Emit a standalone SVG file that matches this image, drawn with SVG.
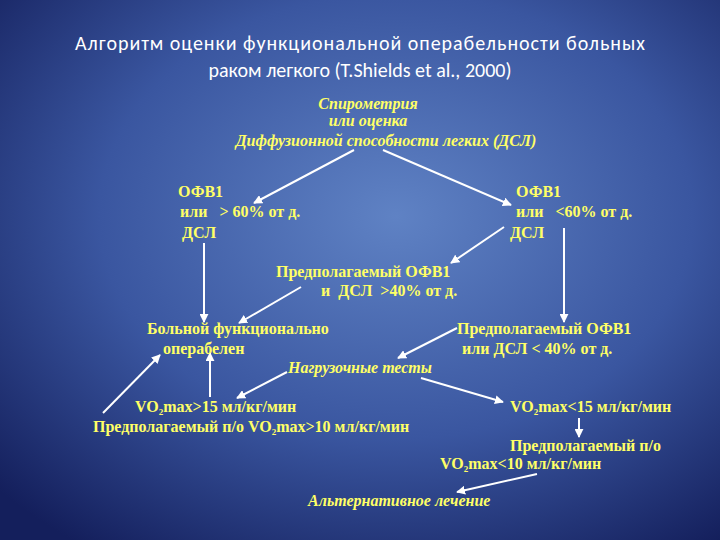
<svg xmlns="http://www.w3.org/2000/svg" width="720" height="540" viewBox="0 0 720 540">
<defs>
<radialGradient id="bg" cx="0.55" cy="0.4" r="0.75">
<stop offset="0" stop-color="#5f82c4"/>
<stop offset="0.55" stop-color="#3a56a0"/>
<stop offset="1" stop-color="#141f5c"/>
</radialGradient>
<marker id="ah" viewBox="0 0 10 10" refX="9" refY="5" markerWidth="9" markerHeight="9" markerUnits="userSpaceOnUse" orient="auto">
<path d="M0,0 L10,5 L0,10 z" fill="#ffffff"/>
</marker>
</defs>
<style>
.t{font-family:"Liberation Serif",serif;font-size:16px;font-weight:bold;fill:#ffff66}
.i{font-style:italic}
.h{font-family:Carlito,"Open Sans","Liberation Sans",sans-serif;font-size:20px;fill:#ffffff}
.c line{stroke:#ffffff;stroke-width:2;marker-end:url(#ah)}
</style>
<rect width="720" height="540" fill="url(#bg)"/>
<g id="title">
<text class="h" x="360" y="50" text-anchor="middle" textLength="570">Алгоритм оценки функциональной операбельности больных</text>
<text class="h" x="360" y="77" text-anchor="middle">раком легкого (T.Shields et al., 2000)</text>
</g>
<g class="c" id="connectors">
<line x1="354" y1="150" x2="254" y2="203"/>
<line x1="383" y1="150" x2="511" y2="205"/>
<line x1="504" y1="227" x2="451" y2="263"/>
<line x1="204" y1="243" x2="204" y2="322"/>
<line x1="564" y1="228" x2="564" y2="322"/>
<line x1="301" y1="287" x2="239" y2="323"/>
<line x1="457" y1="328" x2="398" y2="358"/>
<line x1="287" y1="372" x2="237" y2="398"/>
<line x1="421" y1="378" x2="503" y2="402"/>
<line x1="210" y1="397" x2="210" y2="353"/>
<line x1="103" y1="413" x2="160" y2="355"/>
<line x1="579" y1="418" x2="579" y2="437"/>
<line x1="537" y1="474" x2="457" y2="492"/>
</g>
<g id="spiro" class="t i">
<text x="368" y="109" text-anchor="middle">Спирометрия</text>
<text x="368" y="126" text-anchor="middle">или оценка</text>
<text x="386" y="146" text-anchor="middle">Диффузионной способности  легких (ДСЛ)</text>
</g>
<g id="left1" class="t">
<text x="178" y="197">ОФВ1</text>
<text x="180" y="217" xml:space="preserve">или   &gt; 60% от д.</text>
<text x="182" y="238">ДСЛ</text>
</g>
<g id="right1" class="t">
<text x="516" y="197">ОФВ1</text>
<text x="516" y="217" xml:space="preserve">или   &lt;60% от д.</text>
<text x="510" y="238">ДСЛ</text>
</g>
<g id="mid" class="t">
<text x="276" y="277">Предполагаемый ОФВ1</text>
<text x="321" y="296" xml:space="preserve">и  ДСЛ  &gt;40% от д.</text>
</g>
<g id="oper" class="t">
<text x="147" y="334">Больной функционально</text>
<text x="163" y="354">операбелен</text>
</g>
<g id="low" class="t">
<text x="457" y="334">Предполагаемый ОФВ1</text>
<text x="462" y="354">или ДСЛ &lt; 40% от д.</text>
</g>
<g id="tests" class="t i"><text x="288" y="373">Нагрузочные тесты</text></g>
<g id="vo2hi" class="t">
<text x="135" y="412">VO<tspan font-size="9" dy="3">2</tspan><tspan dy="-3">max&gt;15 мл/кг/мин</tspan></text>
<text x="93" y="432">Предполагаемый п/о VO<tspan font-size="9" dy="3">2</tspan><tspan dy="-3">max&gt;10 мл/кг/мин</tspan></text>
</g>
<g id="vo2lo" class="t">
<text x="510" y="412">VO<tspan font-size="9" dy="3">2</tspan><tspan dy="-3">max&lt;15 мл/кг/мин</tspan></text>
<text x="510" y="451">Предполагаемый п/о</text>
<text x="440" y="469">VO<tspan font-size="9" dy="3">2</tspan><tspan dy="-3">max&lt;10 мл/кг/мин</tspan></text>
</g>
<g id="alt" class="t i"><text x="308" y="506">Альтернативное лечение</text></g>
</svg>
